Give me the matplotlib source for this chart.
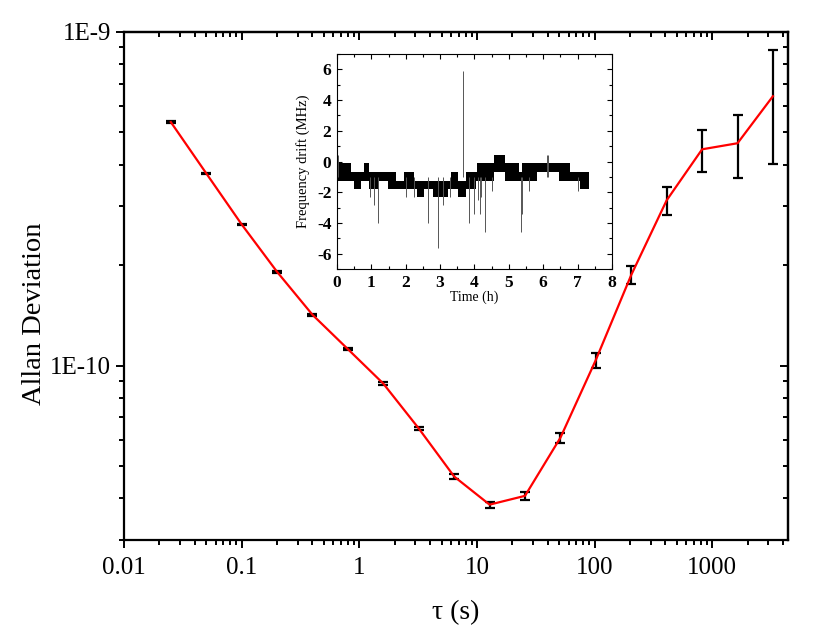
import matplotlib
matplotlib.use("Agg")
import matplotlib.pyplot as plt
from matplotlib.ticker import FixedLocator, NullFormatter, LogLocator, MultipleLocator

plt.rcParams['font.family'] = ['Liberation Serif', 'Times New Roman', 'STIXGeneral', 'DejaVu Serif']

# Allan deviation data
tau = [0.025, 0.05, 0.1, 0.2, 0.4, 0.8, 1.6, 3.2, 6.4, 12.8, 25.6, 51.2,
       102.4, 204.8, 409.6, 819.2, 1638.4, 3276.8]
adev = [5.37e-10, 3.77e-10, 2.65e-10, 1.91e-10, 1.42e-10, 1.12e-10, 8.83e-11,
        6.48e-11, 4.65e-11, 3.83e-11, 4.07e-11, 6.08e-11, 1.04e-10, 1.87e-10,
        3.13e-10, 4.45e-10, 4.64e-10, 6.42e-10]
adev_err = [3e-12, 2e-12, 1.5e-12, 1e-12, 8e-13, 8e-13, 8e-13, 8e-13, 8e-13,
            8e-13, 1.2e-12, 2.2e-12, 5.4e-12, 1.15e-11, 3.1e-11, 6.4e-11,
            1.0e-10, 2.4e-10]
x_ticks = [0.01, 0.1, 1, 10, 100, 1000]
x_labels = ['0.01', '0.1', '1', '10', '100', '1000']
y_ticks = [1e-10, 1e-9]
y_labels = ['1E-10', '1E-9']

# inset: frequency drift band (edges in hours, band top / bottom in MHz)
band_t = [0.0, 0.41, 0.50, 0.70, 0.79, 0.94, 1.23, 1.47, 1.72, 1.96, 2.25,
          2.34, 2.54, 2.78, 3.22, 3.31, 3.51, 3.75, 4.04, 4.08, 4.56, 4.88,
          5.29, 5.39, 5.82, 6.45, 6.79, 7.08, 7.32]
band_top = [-0.1, -0.69, -0.69, -0.69, -0.1, -0.69, -0.69, -0.69, -1.24, -0.69,
            -1.24, -1.24, -1.24, -1.24, -1.24, -0.69, -1.24, -0.69, -0.69, -0.1,
            0.4, -0.1, -0.69, -0.1, -0.1, -0.1, -0.69, -0.69]
band_bot = [-1.24, -1.24, -1.78, -1.24, -1.24, -1.78, -1.24, -1.78, -1.78, -1.78,
            -1.78, -2.33, -1.78, -2.33, -1.78, -1.78, -2.33, -1.78, -1.24, -1.24,
            -0.69, -1.24, -1.24, -1.24, -0.69, -1.24, -1.24, -1.78]
spike_t = [0.03, 0.95, 1.08, 1.2, 2.02, 2.25, 2.65, 2.94, 3.09, 3.3, 3.66,
           3.85, 3.98, 4.1, 4.16, 4.2, 4.31, 4.5, 5.36, 5.38, 5.6, 6.1, 6.15, 7.0]
spike_v = [0.43, -2.3, -2.8, -4.0, -2.3, -2.3, -4.0, -5.6, -2.8, -2.3, 5.9,
           -4.0, -3.4, -2.5, -3.4, -2.3, -4.6, -1.9, -4.6, -3.4, -1.9, 0.4, 0.4, -1.9]
inset_xticks = [0, 1, 2, 3, 4, 5, 6, 7, 8]
inset_yticks = [-6, -4, -2, 0, 2, 4, 6]

fig = plt.figure(figsize=(8.30, 6.36), dpi=100)
ax = fig.add_axes([0.1494, 0.1509, 0.80, 0.7988])

ax.errorbar(tau, adev, yerr=adev_err, color='red', lw=1.6, ecolor='black',
            elinewidth=1.6, capsize=3.5, capthick=1.6, zorder=3)
ax.set_xscale('log')
ax.set_yscale('log')
ax.set_xlim(0.01, 4400)
ax.set_ylim(3e-11, 1e-9)

for s in ax.spines.values():
    s.set_linewidth(1.6)

ax.xaxis.set_major_locator(FixedLocator(x_ticks))
ax.set_xticklabels(x_labels)
ax.xaxis.set_minor_locator(LogLocator(base=10, subs=range(2, 10)))
ax.xaxis.set_minor_formatter(NullFormatter())
ax.yaxis.set_major_locator(FixedLocator(y_ticks))
ax.set_yticklabels(y_labels)
ax.yaxis.set_minor_locator(LogLocator(base=10, subs=range(2, 10)))
ax.yaxis.set_minor_formatter(NullFormatter())
ax.tick_params(which='major', direction='out', length=6, width=1.4, labelsize=18)
ax.tick_params(axis='x', which='major', pad=6)
ax.tick_params(which='minor', direction='out', length=3.5, width=1.4)

# top / right ticks pointing inward
axt = ax.secondary_xaxis('top', functions=(lambda v: v, lambda v: v))
axt.xaxis.set_major_locator(FixedLocator(x_ticks))
axt.xaxis.set_minor_locator(LogLocator(base=10, subs=range(2, 10)))
axt.tick_params(which='major', direction='in', length=6, width=1.4, labeltop=False)
axt.tick_params(which='minor', direction='in', length=3.5, width=1.4)
axt.xaxis.set_major_formatter(NullFormatter())
axt.xaxis.set_minor_formatter(NullFormatter())
axr = ax.secondary_yaxis('right', functions=(lambda v: v, lambda v: v))
axr.yaxis.set_major_locator(FixedLocator(y_ticks))
axr.yaxis.set_minor_locator(LogLocator(base=10, subs=range(2, 10)))
axr.tick_params(which='major', direction='in', length=6, width=1.4, labelright=False)
axr.tick_params(which='minor', direction='in', length=3.5, width=1.4)
axr.yaxis.set_major_formatter(NullFormatter())
axr.yaxis.set_minor_formatter(NullFormatter())
for s in list(axt.spines.values()) + list(axr.spines.values()):
    s.set_linewidth(1.6)

ax.set_xlabel('τ (s)', fontsize=20)
ax.xaxis.set_label_coords(0.5, -0.118)
ax.set_ylabel('Allan Deviation', fontsize=20.5)
ax.yaxis.set_label_coords(-0.116, 0.445)

# inset
ins = fig.add_axes([0.406, 0.577, 0.3313, 0.3381])
ins.fill_between(band_t, band_top + band_top[-1:], band_bot + band_bot[-1:],
                 step='post', color='black', lw=0)
ins.vlines(spike_t, -1.0, spike_v, color='#555555', lw=0.7)
ins.set_xlim(0, 8)
ins.set_ylim(-7, 7)
ins.set_xticks(inset_xticks)
ins.set_xticklabels([str(v) for v in inset_xticks])
ins.set_yticks(inset_yticks)
ins.set_yticklabels([str(v) for v in inset_yticks])
ins.xaxis.set_minor_locator(MultipleLocator(0.5))
ins.yaxis.set_minor_locator(MultipleLocator(1))
ins.tick_params(which='both', direction='in', top=True, right=True, width=0.8)
ins.tick_params(which='major', length=3.5, labelsize=12.5, pad=4)
ins.tick_params(which='minor', length=2)
plt.setp(ins.get_xticklabels() + ins.get_yticklabels(), fontweight='bold')
for s in ins.spines.values():
    s.set_linewidth(0.8)
ins.set_xlabel('Time (h)', fontsize=10, labelpad=0)
ins.set_ylabel('Frequency drift (MHz)', fontsize=10.5, labelpad=5)

fig.savefig('out.png', dpi=100)
